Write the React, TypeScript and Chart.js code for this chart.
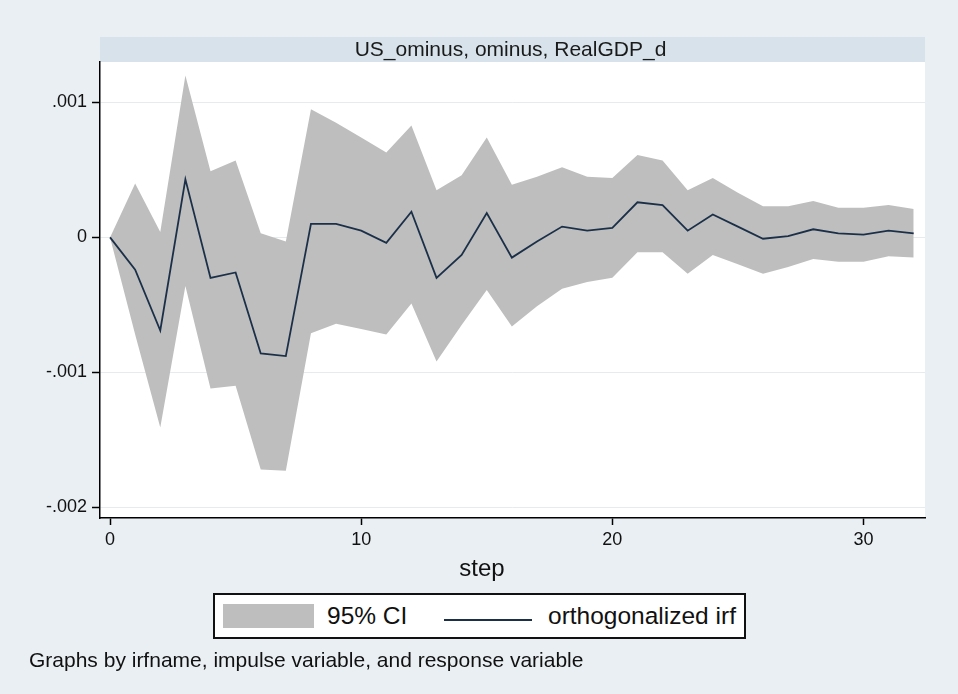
import React, { useEffect, useRef } from 'react';
import { Chart, registerables } from 'chart.js';

Chart.register(...registerables);

// Impulse-response horizon
const steps = [
  0, 1, 2, 3, 4, 5, 6, 7, 8, 9, 10, 11, 12, 13, 14, 15, 16,
  17, 18, 19, 20, 21, 22, 23, 24, 25, 26, 27, 28, 29, 30, 31, 32,
];

// Orthogonalized impulse response
const irf = [
  0, -0.00024, -0.00069, 0.00043, -0.0003, -0.00026, -0.00086, -0.00088,
  0.0001, 0.0001, 0.00005, -0.00004, 0.00019, -0.0003, -0.00013, 0.00018,
  -0.00015, -0.00003, 0.00008, 0.00005, 0.00007, 0.00026, 0.00024, 0.00005,
  0.00017, 0.00008, -0.00001, 0.00001, 0.00006, 0.00003, 0.00002, 0.00005,
  0.00003,
];

// 95% confidence interval bounds
const ciUpper = [
  0, 0.0004, 0.00004, 0.0012, 0.00049, 0.00057, 0.00003, -0.00003,
  0.00095, 0.00085, 0.00074, 0.00063, 0.00083, 0.00035, 0.00046, 0.00074,
  0.00039, 0.00045, 0.00052, 0.00045, 0.00044, 0.00061, 0.00057, 0.00035,
  0.00044, 0.00033, 0.00023, 0.00023, 0.00027, 0.00022, 0.00022, 0.00024,
  0.00021,
];

const ciLower = [
  0, -0.00072, -0.00141, -0.00036, -0.00112, -0.0011, -0.00172, -0.00173,
  -0.00071, -0.00064, -0.00068, -0.00072, -0.00049, -0.00092, -0.00065, -0.00039,
  -0.00066, -0.00051, -0.00038, -0.00033, -0.0003, -0.00011, -0.00011, -0.00027,
  -0.00013, -0.0002, -0.00027, -0.00022, -0.00016, -0.00018, -0.00018, -0.00014,
  -0.00015,
];

const xTickValues = [0, 10, 20, 30];
const xTickLabels = ['0', '10', '20', '30'];
const yTickValues = [-0.002, -0.001, 0, 0.001];
const yTickLabels = ['-.002', '-.001', '0', '.001'];

const panelTitle = 'US_ominus, ominus, RealGDP_d';
const xAxisTitle = 'step';
const legendLabels = ['95% CI', 'orthogonalized irf'];
const noteText = 'Graphs by irfname, impulse variable, and response variable';

const FONT = "'Liberation Sans', Arial, Helvetica, sans-serif";
const PAGE_BG = '#e9eff2';
const BAND_BG = '#d7e2ea';
const CI_FILL = '#bebebe';
const IRF_COLOR = '#1b3048';

const toPoints = (ys: number[]) => steps.map((s, i) => ({ x: s, y: ys[i] }));

// White plot region, the by-group header strip above it, and the x-axis title
// (centred on the whole graph region rather than on the plot).
const panelPlugin = {
  id: 'panelBackground',
  beforeDraw(chart: any) {
    const { ctx, chartArea: a } = chart;
    const stripTop = 37;
    ctx.save();
    ctx.fillStyle = '#ffffff';
    ctx.fillRect(a.left, a.top, a.right - a.left, a.bottom - a.top);
    ctx.fillStyle = BAND_BG;
    ctx.fillRect(a.left, stripTop, a.right - a.left, a.top - stripTop);
    ctx.fillStyle = '#1a1a1a';
    ctx.font = `21px ${FONT}`;
    ctx.textAlign = 'center';
    ctx.textBaseline = 'middle';
    ctx.fillText(panelTitle, (a.left + a.right) / 2 - 2, (stripTop + a.top) / 2 + 1);
    ctx.restore();
  },
  afterDraw(chart: any) {
    const { ctx } = chart;
    ctx.save();
    ctx.fillStyle = '#111';
    ctx.font = `24px ${FONT}`;
    ctx.textAlign = 'center';
    ctx.textBaseline = 'middle';
    ctx.fillText(xAxisTitle, chart.width / 2 + 3, 569);
    ctx.restore();
  },
};

export default function App() {
  const canvasRef = useRef<HTMLCanvasElement>(null);

  useEffect(() => {
    const canvas = canvasRef.current;
    if (!canvas) return;
    const chart = new Chart(canvas, {
      type: 'line',
      data: {
        datasets: [
          {
            label: legendLabels[1],
            data: toPoints(irf),
            borderColor: IRF_COLOR,
            borderWidth: 1.8,
            pointRadius: 0,
            tension: 0,
            fill: false,
          },
          {
            label: 'upper',
            data: toPoints(ciUpper),
            borderWidth: 0,
            borderColor: CI_FILL,
            backgroundColor: CI_FILL,
            pointRadius: 0,
            tension: 0,
            fill: '+1',
          },
          {
            label: 'lower',
            data: toPoints(ciLower),
            borderWidth: 0,
            borderColor: CI_FILL,
            backgroundColor: CI_FILL,
            pointRadius: 0,
            tension: 0,
            fill: false,
          },
        ],
      },
      options: {
        animation: false,
        responsive: false,
        devicePixelRatio: 1,
        layout: { padding: { top: 62, right: 33, bottom: 100, left: 0 } },
        plugins: {
          legend: { display: false },
          title: { display: false },
          tooltip: { enabled: false },
        },
        scales: {
          x: {
            type: 'linear',
            min: -0.4,
            max: 32.45,
            afterFit: (s: any) => {
              s.height = 76;
            },
            afterBuildTicks: (s: any) => {
              s.ticks = xTickValues.map((v) => ({ value: v }));
            },
            border: { display: true, color: '#000', width: 1.5 },
            grid: {
              drawOnChartArea: false,
              drawTicks: true,
              tickLength: 7,
              tickColor: '#000',
              tickWidth: 1.5,
            },
            ticks: {
              padding: 4,
              color: '#111',
              font: { family: FONT, size: 18 },
              maxRotation: 0,
              callback: (v: any) => xTickLabels[xTickValues.indexOf(Number(v))] ?? '',
            },
            title: { display: false },
          },
          y: {
            type: 'linear',
            min: -0.00208,
            max: 0.0013,
            afterFit: (s: any) => {
              s.width = 100;
            },
            afterBuildTicks: (s: any) => {
              s.ticks = yTickValues.map((v) => ({ value: v }));
            },
            border: { display: true, color: '#000', width: 1.5 },
            grid: {
              color: '#e6ebee',
              lineWidth: 1,
              drawTicks: true,
              tickLength: 8,
              tickColor: '#000',
              tickWidth: 1.5,
            },
            ticks: {
              padding: 5,
              color: '#111',
              font: { family: FONT, size: 18 },
              callback: (v: any) => {
                const i = yTickValues.findIndex((t) => Math.abs(t - Number(v)) < 1e-9);
                return i >= 0 ? yTickLabels[i] : '';
              },
            },
          },
        },
      },
      plugins: [panelPlugin],
    });
    return () => chart.destroy();
  }, []);

  return (
    <div
      style={{
        position: 'absolute',
        left: 0,
        top: 0,
        width: 958,
        height: 694,
        background: PAGE_BG,
        fontFamily: FONT,
        color: '#111',
        overflow: 'hidden',
      }}
    >
      <canvas
        ref={canvasRef}
        width={958}
        height={694}
        style={{ position: 'absolute', left: 0, top: 0, width: 958, height: 694 }}
      />
      <div
        style={{
          position: 'absolute',
          left: 213,
          top: 593,
          width: 533,
          height: 46,
          boxSizing: 'border-box',
          border: '2px solid #111',
          background: '#ffffff',
        }}
      >
        <div
          style={{
            position: 'absolute',
            left: 8,
            top: 9,
            width: 91,
            height: 24,
            background: CI_FILL,
          }}
        />
        <span
          style={{
            position: 'absolute',
            left: 112,
            top: 0,
            lineHeight: '42px',
            fontSize: 24.5,
            whiteSpace: 'nowrap',
          }}
        >
          {legendLabels[0]}
        </span>
        <div
          style={{
            position: 'absolute',
            left: 229,
            top: 24,
            width: 88,
            height: 2,
            background: IRF_COLOR,
          }}
        />
        <span
          style={{
            position: 'absolute',
            left: 333,
            top: 0,
            lineHeight: '42px',
            fontSize: 24.5,
            whiteSpace: 'nowrap',
          }}
        >
          {legendLabels[1]}
        </span>
      </div>
      <div
        style={{
          position: 'absolute',
          left: 29,
          top: 647,
          lineHeight: '26px',
          fontSize: 21,
          whiteSpace: 'nowrap',
        }}
      >
        {noteText}
      </div>
    </div>
  );
}
